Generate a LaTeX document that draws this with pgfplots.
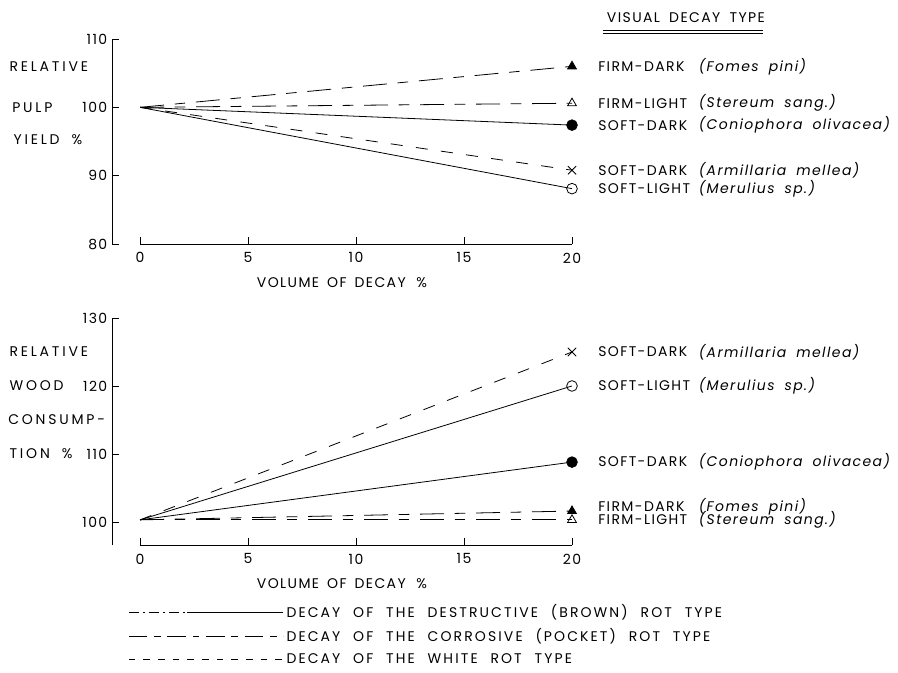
\documentclass[border=0pt]{standalone}
\usepackage{fontspec}
\setmainfont{Poppins}[LetterSpace=10, WordSpace=1.8]
\newfontfamily\wide{Poppins}[LetterSpace=20, WordSpace=2.2]
\newfontfamily\legfont{Poppins}[LetterSpace=15, WordSpace=2.2]
\usepackage{pgfplots}
\pgfplotsset{compat=1.18}
\newcommand{\lab}{\fontsize{10.5}{12}\selectfont}
\pgfplotsset{
  corr/.style={black, line width=0.6pt, dash pattern=on 18pt off 8pt on 8pt off 8pt},
  whiterot/.style={black, line width=0.6pt, dash pattern=on 9pt off 10pt},
  brown/.style={black, line width=0.6pt, solid},
  common/.style={
    scale only axis, width=345pt, xmin=-1.3, xmax=20,
    axis x line*=bottom, axis y line*=left,
    x axis line style={shorten <=21pt},
    axis line style={line width=0.6pt},
    tick align=inside, major tick length=5pt,
    tick style={black, line width=0.6pt},
    xtick={0,5,10,15,20},
    clip=false,
    ticklabel style={font=\lab},
    xticklabel style={yshift=-3pt},
    /pgf/number format/assume math mode=true,
    xlabel={VOLUME\hspace{6pt}OF\hspace{6pt}DECAY\hspace{8pt}\%},
    xlabel style={font=\lab, yshift=-4pt},
  },
}
\begin{document}
\begin{tikzpicture}
\useasboundingbox (0,0) rectangle (673.5pt,-504pt);
\node[anchor=west, font=\lab, inner sep=0pt] at (455pt,-13.5pt) {VISUAL DECAY TYPE};
\draw[line width=0.6pt] (452pt,-22.5pt) -- (572pt,-22.5pt);
\draw[line width=0.6pt] (452pt,-25pt) -- (572pt,-25pt);

% ---------------- top panel
\begin{axis}[common, at={(84pt,-183pt)}, anchor=south west,
  height=153.75pt, ymin=80, ymax=110, ytick={80,90,100,110}]
\addplot[corr, mark=triangle*, mark indices={2}, mark options={solid, fill=black, scale=1.9}] coordinates {(0,100) (20,106)};
\addplot[corr, mark=triangle, mark indices={2}, mark options={solid, fill=white, scale=1.9}] coordinates {(0,100) (20,100.6)};
\addplot[brown, mark=*, mark indices={2}, mark options={solid, fill=black, scale=2.0}] coordinates {(0,100) (20,97.4)};
\addplot[whiterot, mark=x, mark indices={2}, mark options={solid, scale=2.2}] coordinates {(0,100) (20,90.8)};
\addplot[brown, mark=o, mark indices={2}, mark options={solid, fill=white, scale=2.0}] coordinates {(0,100) (20,88.1)};
\begin{scope}[font=\lab, inner sep=0pt]
\node[anchor=west] at ([xshift=19.5pt]axis cs:20,106) {FIRM-DARK};
\node[anchor=west] at ([xshift=95pt]axis cs:20,106) {\textit{(Fomes pini)}};
\node[anchor=west] at ([xshift=19.5pt]axis cs:20,100.6) {FIRM-LIGHT};
\node[anchor=west] at ([xshift=95pt]axis cs:20,100.6) {\textit{(Stereum sang.)}};
\node[anchor=west] at ([xshift=19.5pt]axis cs:20,97.4) {SOFT-DARK};
\node[anchor=west] at ([xshift=95pt]axis cs:20,97.4) {\textit{(Coniophora olivacea)}};
\node[anchor=west] at ([xshift=19.5pt]axis cs:20,90.8) {SOFT-DARK};
\node[anchor=west] at ([xshift=95pt]axis cs:20,90.8) {\textit{(Armillaria mellea)}};
\node[anchor=west] at ([xshift=19.5pt]axis cs:20,88.1) {SOFT-LIGHT};
\node[anchor=west] at ([xshift=95pt]axis cs:20,88.1) {\textit{(Merulius sp.)}};
\node[anchor=west] at ([xshift=-77pt]axis cs:-1.3,106) {\wide RELATIVE};
\node[anchor=west] at ([xshift=-75pt]axis cs:-1.3,100) {\wide PULP};
\node[anchor=west] at ([xshift=-74pt]axis cs:-1.3,95.3) {\wide YIELD\hspace{9pt}\%};
\end{scope}
\end{axis}

% ---------------- bottom panel
\begin{axis}[common, at={(84pt,-408.75pt)}, anchor=south west,
  height=170.25pt, ymin=96.6, ymax=130, ytick={100,110,120,130},
  legend style={at={(axis description cs:0.035,-0.255)}, anchor=north west,
    draw=none, fill=none, font=\lab\legfont, row sep=5pt, inner sep=0pt,
    nodes={inner xsep=2pt, inner ysep=1pt}},
  legend cell align=left]
\addplot[whiterot, mark=x, mark indices={2}, mark options={solid, scale=2.2}, forget plot] coordinates {(0,100.3) (20,125)};
\addplot[brown, mark=o, mark indices={2}, mark options={solid, fill=white, scale=2.0}, forget plot] coordinates {(0,100.3) (20,120)};
\addplot[brown, mark=*, mark indices={2}, mark options={solid, fill=black, scale=2.0}, forget plot] coordinates {(0,100.3) (20,108.8)};
\addplot[corr, mark=triangle*, mark indices={2}, mark options={solid, fill=black, scale=1.9}, forget plot] coordinates {(0,100.3) (20,101.6)};
\addplot[corr, mark=triangle, mark indices={2}, mark options={solid, fill=white, scale=1.9}, forget plot] coordinates {(0,100.3) (20,100.3)};
\addlegendimage{legend image code/.code={
  \draw[black, line width=0.6pt, dash pattern=on 8pt off 3pt on 1pt off 3pt] (0pt,0pt) -- (44pt,0pt);
  \draw[black, line width=0.6pt] (44pt,0pt) -- (116pt,0pt);}}
\addlegendentry{DECAY OF THE DESTRUCTIVE (BROWN) ROT TYPE}
\addlegendimage{legend image code/.code={
  \draw[black, line width=0.6pt, dash pattern=on 14pt off 5pt on 5pt off 5pt] (0pt,0pt) -- (116pt,0pt);}}
\addlegendentry{DECAY OF THE CORROSIVE (POCKET) ROT TYPE}
\addlegendimage{legend image code/.code={
  \draw[black, line width=0.6pt, dash pattern=on 5pt off 6pt] (0pt,0pt) -- (116pt,0pt);}}
\addlegendentry{DECAY OF THE WHITE ROT TYPE}
\begin{scope}[font=\lab, inner sep=0pt]
\node[anchor=west] at ([xshift=19.5pt]axis cs:20,125) {SOFT-DARK};
\node[anchor=west] at ([xshift=95pt]axis cs:20,125) {\textit{(Armillaria mellea)}};
\node[anchor=west] at ([xshift=19.5pt]axis cs:20,120) {SOFT-LIGHT};
\node[anchor=west] at ([xshift=95pt]axis cs:20,120) {\textit{(Merulius sp.)}};
\node[anchor=west] at ([xshift=19.5pt]axis cs:20,108.8) {SOFT-DARK};
\node[anchor=west] at ([xshift=95pt]axis cs:20,108.8) {\textit{(Coniophora olivacea)}};
\node[anchor=west] at ([xshift=19.5pt]axis cs:20,102.2) {FIRM-DARK};
\node[anchor=west] at ([xshift=95pt]axis cs:20,102.2) {\textit{(Fomes pini)}};
\node[anchor=west] at ([xshift=19.5pt]axis cs:20,100.3) {FIRM-LIGHT};
\node[anchor=west] at ([xshift=95pt]axis cs:20,100.3) {\textit{(Stereum sang.)}};
\node[anchor=west] at ([xshift=-77pt]axis cs:-1.3,125) {\wide RELATIVE};
\node[anchor=west] at ([xshift=-77pt]axis cs:-1.3,120) {\wide WOOD};
\node[anchor=west] at ([xshift=-78pt]axis cs:-1.3,115) {\wide CONSUMP-};
\node[anchor=west] at ([xshift=-77pt]axis cs:-1.3,110) {\wide TION\hspace{9pt}\%};
\end{scope}
\end{axis}
\end{tikzpicture}
\end{document}
